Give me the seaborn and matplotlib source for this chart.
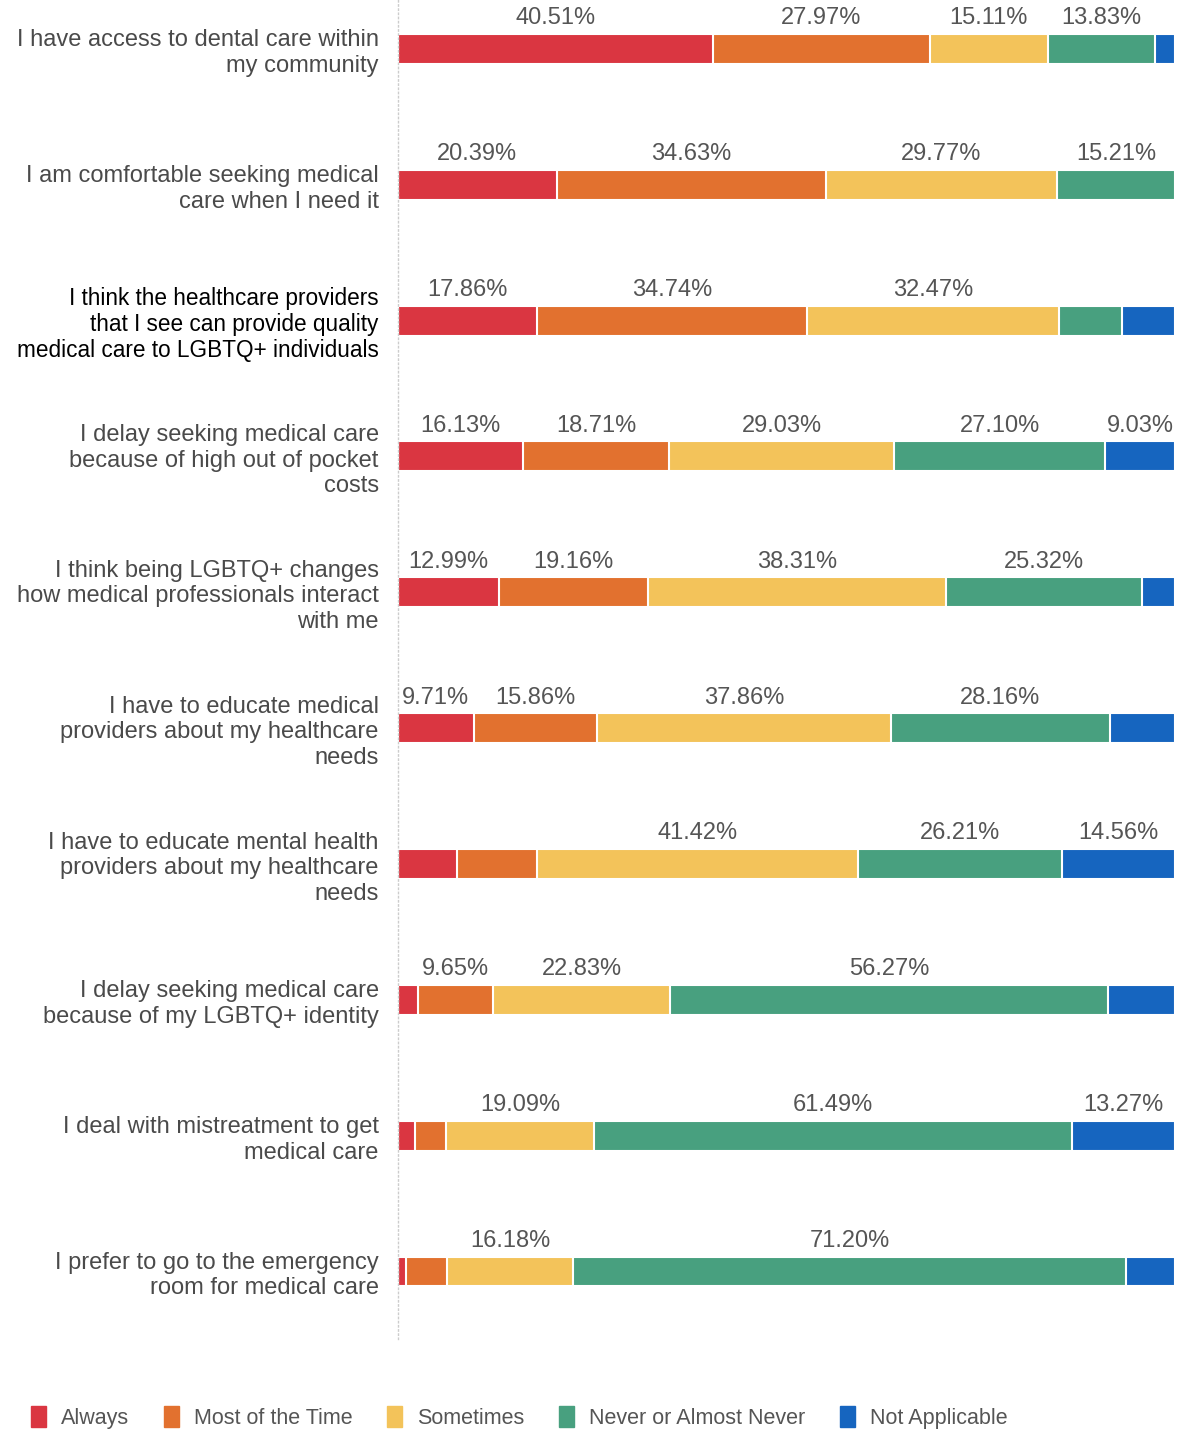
import numpy as np
import pandas as pd
import matplotlib
matplotlib.use("Agg")
import matplotlib.pyplot as plt
import seaborn as sns
from matplotlib.patches import Patch

statements = [
    "I have access to dental care within\nmy community",
    "I am comfortable seeking medical\ncare when I need it",
    "I think the healthcare providers\nthat I see can provide quality\nmedical care to LGBTQ+ individuals",
    "I delay seeking medical care\nbecause of high out of pocket\ncosts",
    "I think being LGBTQ+ changes\nhow medical professionals interact\nwith me",
    "I have to educate medical\nproviders about my healthcare\nneeds",
    "I have to educate mental health\nproviders about my healthcare\nneeds",
    "I delay seeking medical care\nbecause of my LGBTQ+ identity",
    "I deal with mistreatment to get\nmedical care",
    "I prefer to go to the emergency\nroom for medical care",
]

responses = ["Always", "Most of the Time", "Sometimes", "Never or Almost Never", "Not Applicable"]

always = [40.51, 20.39, 17.86, 16.13, 12.99, 9.71, 7.52, 2.57, 2.20, 0.97]
most_of_time = [27.97, 34.63, 34.74, 18.71, 19.16, 15.86, 10.29, 9.65, 3.95, 5.34]
sometimes = [15.11, 29.77, 32.47, 29.03, 38.31, 37.86, 41.42, 22.83, 19.09, 16.18]
never = [13.83, 15.21, 8.12, 27.10, 25.32, 28.16, 26.21, 56.27, 61.49, 71.20]
not_applicable = [2.58, 0.0, 6.81, 9.03, 4.22, 8.41, 14.56, 8.68, 13.27, 6.31]

colors = ["#DA3641", "#E2712F", "#F3C35A", "#48A07F", "#1665BF"]

df = pd.DataFrame({
    "statement": statements,
    "Always": always,
    "Most of the Time": most_of_time,
    "Sometimes": sometimes,
    "Never or Almost Never": never,
    "Not Applicable": not_applicable,
})
cum = df[responses].cumsum(axis=1)

sns.set_style("white")
plt.rcParams["font.family"] = ["Liberation Sans", "DejaVu Sans"]

fig = plt.figure(figsize=(11.78, 14.31), dpi=100)
ax = fig.add_axes([0.338, 0.064, 0.6595, 0.936])

# stacked bars: draw cumulative totals, longest first
for resp, col in reversed(list(zip(responses, colors))):
    sns.barplot(x=cum[resp], y=df["statement"], color=col, width=0.22, saturation=1,
                edgecolor="white", linewidth=1.5, ax=ax, orient="h")

# percentage labels above segments
for i, row in df.iterrows():
    start = 0
    for resp in responses:
        v = row[resp]
        show = v >= 9 and not (i == 6 and resp == "Most of the Time")
        if show:
            ax.text(start + v / 2, i - 0.225, f"{v:.2f}%", ha="center", va="center",
                    fontsize=17, color="#555555")
        start += v

ax.set_xlim(0, 100)
ax.set_ylim(9.5, -0.36)
ax.set_xlabel("")
ax.set_ylabel("")
ax.set_xticks([])
ax.tick_params(axis="y", length=0, pad=14, labelsize=17, labelcolor="#4a4a4a")
for lbl in ax.get_yticklabels():
    lbl.set_linespacing(1.2)
third = ax.get_yticklabels()[2]
third.set_color("black")
third.set_fontsize(16.3)
third.set_linespacing(1.15)

for s in ["top", "right", "bottom"]:
    ax.spines[s].set_visible(False)
ax.spines["left"].set_linestyle((0, (1, 2)))
ax.spines["left"].set_color("#cccccc")
ax.spines["left"].set_linewidth(1)

handles = [Patch(facecolor=c, edgecolor=c, label=r) for r, c in zip(responses, colors)]
fig.legend(handles=handles, loc="lower left", bbox_to_anchor=(0.01, -0.012), ncol=5,
           frameon=False, fontsize=15.5, labelcolor="#555555", handlelength=0.7,
           handleheight=1.1, handletextpad=0.7, columnspacing=1.6)

fig.savefig("out.png", dpi=100)
